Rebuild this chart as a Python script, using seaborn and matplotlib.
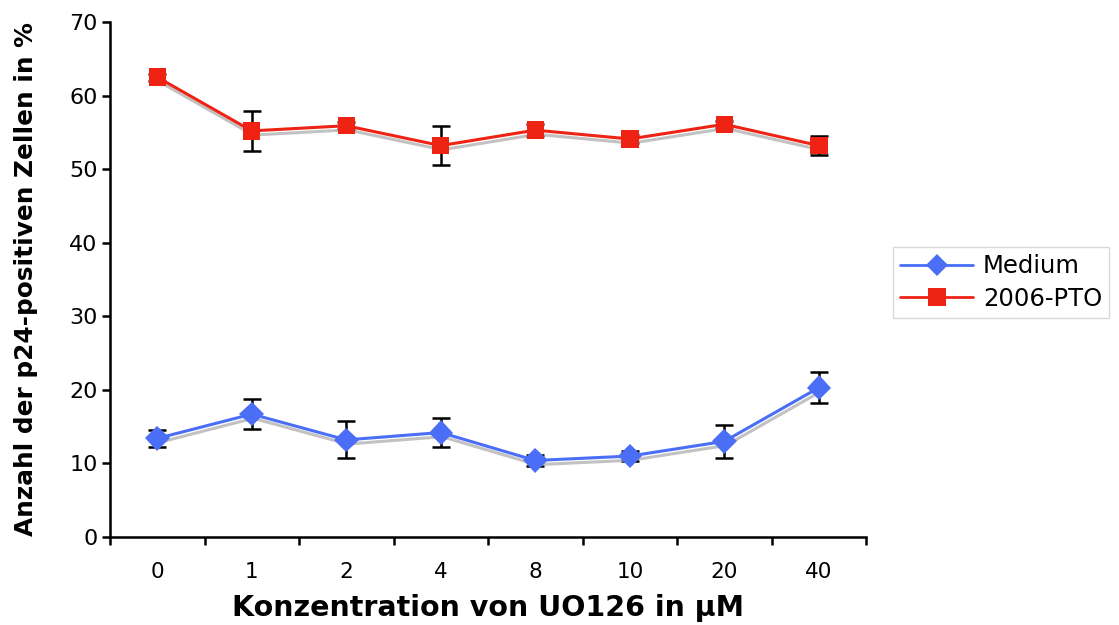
import matplotlib
matplotlib.use("Agg")
import matplotlib.pyplot as plt
import matplotlib.patheffects as pe
from matplotlib.lines import Line2D
import seaborn as sns
import pandas as pd
import numpy as np
from matplotlib.ticker import FixedLocator, MultipleLocator

concentrations = ["0", "1", "2", "4", "8", "10", "20", "40"]
medium = [13.4, 16.7, 13.2, 14.2, 10.4, 11.0, 13.0, 20.3]
medium_err = [1.2, 2.0, 2.5, 1.95, 0.7, 0.7, 2.2, 2.1]
pto = [62.5, 55.2, 55.9, 53.2, 55.3, 54.1, 56.1, 53.2]
pto_err = [0.5, 2.7, 0.5, 2.7, 0.8, 0.5, 0.5, 1.3]
series_names = ["Medium", "2006-PTO"]
colors = {"Medium": "#4a6ef5", "2006-PTO": "#ee2314"}
markers = {"Medium": "D", "2006-PTO": "s"}

df = pd.concat([
    pd.DataFrame({"conc": concentrations, "value": medium, "err": medium_err, "series": "Medium"}),
    pd.DataFrame({"conc": concentrations, "value": pto, "err": pto_err, "series": "2006-PTO"}),
], ignore_index=True)

sns.set_style("white")
plt.rcParams["font.family"] = ["DejaVu Sans"]
for key in ["text.color", "axes.labelcolor", "xtick.color", "ytick.color"]:
    plt.rcParams[key] = "black"

fig = plt.figure(figsize=(11.19, 6.25), dpi=100)
ax = fig.add_axes([0.0983, 0.1408, 0.6757, 0.824])

# error bars first (behind markers)
for name in series_names:
    sub = df[df.series == name]
    ax.errorbar(np.arange(len(sub)), sub["value"], yerr=sub["err"], fmt="none",
                ecolor="black", elinewidth=1.8, capsize=6.5, capthick=1.8, zorder=2)

sns.lineplot(data=df, x="conc", y="value", hue="series", style="series",
             hue_order=series_names, style_order=series_names,
             markers=markers, dashes=False,
             palette=colors, linewidth=2.2, markersize=12.5, markeredgewidth=0,
             sort=False, ax=ax, zorder=3, legend=False)

for line in ax.lines:
    if line.get_marker() in ("D", "s"):
        line.set_path_effects([pe.SimpleLineShadow(offset=(1, -3), shadow_color="#9a9a9a", alpha=0.6),
                               pe.Normal()])

ax.set_xlim(-0.5, len(concentrations) - 0.5)
ax.set_ylim(0, 70)
ax.yaxis.set_major_locator(MultipleLocator(10))
ax.set_xticks(range(len(concentrations)))
ax.set_xticklabels(concentrations)
ax.xaxis.set_minor_locator(FixedLocator(np.arange(-0.5, len(concentrations), 1.0)))
ax.tick_params(axis="x", which="major", length=0, pad=18, labelsize=15.5)
ax.tick_params(axis="x", which="minor", length=6, width=1.8, direction="out", bottom=True)
ax.tick_params(axis="y", which="major", length=6, width=1.8, direction="out", left=True, labelsize=16, pad=3)

for side in ["top", "right"]:
    ax.spines[side].set_visible(False)
for side in ["left", "bottom"]:
    ax.spines[side].set_linewidth(1.8)
    ax.spines[side].set_color("black")

ax.set_xlabel("Konzentration von UO126 in µM", fontsize=20.5, fontweight="bold", labelpad=9)
ax.set_ylabel("Anzahl der p24-positiven Zellen in %", fontsize=17.8, fontweight="bold", labelpad=22)

handles = [Line2D([], [], color=colors[n], marker=markers[n], markersize=12.5 if n == "2006-PTO" else 11.5,
                  markeredgewidth=0, linewidth=2.0) for n in series_names]
legend = fig.legend(handles, series_names, loc="upper left", bbox_to_anchor=(893 / 1119, 1 - 247 / 625),
                    frameon=True, fontsize=17.5, handlelength=3.0, handletextpad=0.4, borderpad=0.3,
                    borderaxespad=0, fancybox=False, edgecolor="#d0d0d0", labelspacing=0.35)
legend.get_frame().set_linewidth(1.0)

fig.savefig("out.png", dpi=100)
